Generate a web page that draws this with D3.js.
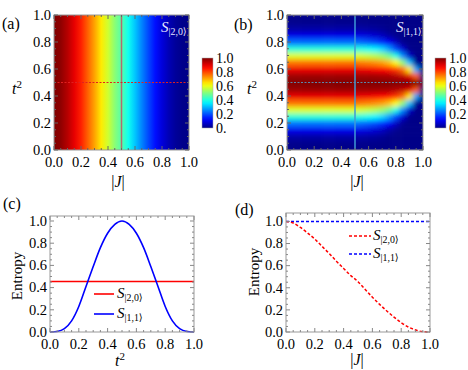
<!DOCTYPE html>
<html>
<head>
<meta charset="utf-8">
<script src="https://cdn.jsdelivr.net/npm/d3@7"></script>
<style>
body{margin:0;background:#fff;}
svg text{font-family:"Liberation Serif","DejaVu Serif","Times New Roman",serif;fill:#000;}
</style>
</head>
<body>
<svg width="468" height="370" font-family="Liberation Serif, DejaVu Serif, serif"></svg>
<script>
// |J| samples and S_|2,0>
var jVals = [0,0.05,0.1,0.15,0.2,0.25,0.3,0.35,0.4,0.45,0.5,0.55,0.6,0.65,0.7,0.75,0.8,0.85,0.9,0.95,1];
var s20 = [1.0,0.985,0.945,0.895,0.84,0.775,0.71,0.64,0.575,0.51,0.455,0.385,0.315,0.25,0.19,0.135,0.085,0.045,0.018,0.003,0];

// grid for S_|1,1>(|J|, t^2): one row per t^2 value, one column per |J| value (same as jVals)
var tVals = [0,0.05,0.1,0.15,0.2,0.25,0.3,0.35,0.4,0.45,0.5,0.55,0.6,0.65,0.7,0.75,0.8,0.85,0.9,0.95,1];
var s11Grid = [
 [0,0,0,0,0,0,0,0,0,0,0,0,0,0,0,0,0,0,0,0,0],
 [0.005,0.005,0.005,0.005,0.005,0.005,0.005,0.005,0.005,0.005,0.005,0.004,0.003,0.003,0.001,0,0,0,0,0,0],
 [0.03,0.03,0.03,0.03,0.03,0.03,0.03,0.03,0.03,0.03,0.03,0.027,0.024,0.02,0.013,0.004,0,0,0,0,0],
 [0.1,0.1,0.1,0.1,0.1,0.1,0.1,0.1,0.1,0.1,0.1,0.093,0.085,0.074,0.057,0.029,0.009,0,0,0,0],
 [0.23,0.23,0.23,0.23,0.23,0.23,0.23,0.23,0.23,0.23,0.23,0.218,0.204,0.189,0.162,0.113,0.058,0.01,0,0,0],
 [0.41,0.41,0.41,0.41,0.41,0.41,0.41,0.41,0.41,0.41,0.41,0.396,0.382,0.362,0.332,0.275,0.187,0.076,0.004,0,0],
 [0.59,0.59,0.59,0.59,0.59,0.59,0.59,0.59,0.59,0.59,0.59,0.579,0.568,0.552,0.527,0.482,0.398,0.252,0.07,0,0],
 [0.76,0.76,0.76,0.76,0.76,0.76,0.76,0.76,0.76,0.76,0.76,0.752,0.744,0.733,0.716,0.684,0.625,0.516,0.31,0.013,0],
 [0.89,0.89,0.89,0.89,0.89,0.89,0.89,0.89,0.89,0.89,0.89,0.886,0.882,0.876,0.867,0.851,0.82,0.768,0.64,0.281,0],
 [0.97,0.97,0.97,0.97,0.97,0.97,0.97,0.97,0.97,0.97,0.97,0.969,0.968,0.965,0.963,0.958,0.949,0.932,0.902,0.778,0],
 [1,1,1,1,1,1,1,1,1,1,1,1,1,1,1,1,1,1,1,1,1],
 [0.97,0.97,0.97,0.97,0.97,0.97,0.97,0.97,0.97,0.97,0.97,0.969,0.968,0.965,0.963,0.958,0.949,0.932,0.902,0.778,0],
 [0.89,0.89,0.89,0.89,0.89,0.89,0.89,0.89,0.89,0.89,0.89,0.886,0.882,0.876,0.867,0.851,0.82,0.768,0.64,0.281,0],
 [0.76,0.76,0.76,0.76,0.76,0.76,0.76,0.76,0.76,0.76,0.76,0.752,0.744,0.733,0.716,0.684,0.625,0.516,0.31,0.013,0],
 [0.59,0.59,0.59,0.59,0.59,0.59,0.59,0.59,0.59,0.59,0.59,0.579,0.568,0.552,0.527,0.482,0.398,0.252,0.07,0,0],
 [0.41,0.41,0.41,0.41,0.41,0.41,0.41,0.41,0.41,0.41,0.41,0.396,0.382,0.362,0.332,0.275,0.187,0.076,0.004,0,0],
 [0.23,0.23,0.23,0.23,0.23,0.23,0.23,0.23,0.23,0.23,0.23,0.218,0.204,0.189,0.162,0.113,0.058,0.01,0,0,0],
 [0.1,0.1,0.1,0.1,0.1,0.1,0.1,0.1,0.1,0.1,0.1,0.093,0.085,0.074,0.057,0.029,0.009,0,0,0,0],
 [0.03,0.03,0.03,0.03,0.03,0.03,0.03,0.03,0.03,0.03,0.03,0.027,0.024,0.02,0.013,0.004,0,0,0,0,0],
 [0.005,0.005,0.005,0.005,0.005,0.005,0.005,0.005,0.005,0.005,0.005,0.004,0.003,0.003,0.001,0,0,0,0,0,0],
 [0,0,0,0,0,0,0,0,0,0,0,0,0,0,0,0,0,0,0,0,0]
];

var axisTicks = [0,0.2,0.4,0.6,0.8,1];
var tickLabels = ["0.0","0.2","0.4","0.6","0.8","1.0"];
var barLabels = ["0.","0.2","0.4","0.6","0.8","1.0"];
var legendSubs = ["|2,0\u27E9","|1,1\u27E9"];

// jet-like colour map
var cmap = d3.scaleLinear()
  .domain([0,0.12,0.37,0.5,0.62,0.87,1])
  .range(["#000088","#0000ff","#00ffff","#80ff80","#ffff00","#ff0000","#800000"])
  .clamp(true);

var svg = d3.select("svg");
var defs = svg.append("defs");
var minor = d3.range(0,1.0001,0.05);

function frame(x, y, col){
  var g = svg.append("g");
  var x0 = x.range()[0], x1 = x.range()[1], y0 = y.range()[1], y1 = y.range()[0];
  g.append("rect").attr("x",x0).attr("y",y0).attr("width",x1-x0).attr("height",y1-y0)
    .attr("fill","none").attr("stroke","#999").attr("stroke-width",1);
  minor.forEach(function(v){
    var big = Math.abs(v*5-Math.round(v*5))<1e-6;
    var len = big ? 4 : 2;
    g.append("line").attr("x1",x(v)).attr("x2",x(v)).attr("y1",y1).attr("y2",y1-len).attr("stroke",col);
    g.append("line").attr("x1",x(v)).attr("x2",x(v)).attr("y1",y0).attr("y2",y0+len).attr("stroke",col);
    g.append("line").attr("y1",y(v)).attr("y2",y(v)).attr("x1",x0).attr("x2",x0+len).attr("stroke",col);
    g.append("line").attr("y1",y(v)).attr("y2",y(v)).attr("x1",x1).attr("x2",x1-len).attr("stroke",col);
  });
  axisTicks.forEach(function(v,i){
    svg.append("text").attr("x",x(v)).attr("y",y1+17).attr("text-anchor","middle")
      .attr("font-size",14.5).text(tickLabels[i]);
    svg.append("text").attr("x",x0-3).attr("y",y(v)).attr("dy","0.33em").attr("text-anchor","end")
      .attr("font-size",14.5).text(tickLabels[i]);
  });
}

function sLabel(x, y, sub, color, size){
  var t = svg.append("text").attr("x",x).attr("y",y).style("fill",color);
  t.append("tspan").attr("font-style","italic").attr("font-size",size).text("S");
  t.append("tspan").attr("font-size",size*0.66).attr("dy",3).text(sub);
}

function tLabel(x, y){
  var t = svg.append("text").attr("x",x).attr("y",y).attr("text-anchor","middle").attr("font-size",16);
  t.append("tspan").attr("font-style","italic").text("t");
  t.append("tspan").attr("font-size",11).attr("dy",-6).text("2");
}

function jLabel(x, y){
  var t = svg.append("text").attr("x",x).attr("y",y).attr("text-anchor","middle").attr("font-size",16);
  t.append("tspan").text("|");
  t.append("tspan").attr("font-style","italic").text("J");
  t.append("tspan").text("|");
}

function colorbar(x, id){
  var yb = d3.scaleLinear().domain([0,1]).range([128,58]);
  var gr = defs.append("linearGradient").attr("id",id).attr("x1",0).attr("x2",0).attr("y1",1).attr("y2",0);
  d3.range(0,1.0001,0.05).forEach(function(v){
    gr.append("stop").attr("offset",v).attr("stop-color",cmap(v));
  });
  svg.append("rect").attr("x",x).attr("y",yb(1)).attr("width",11).attr("height",yb(0)-yb(1))
    .attr("fill","url(#"+id+")").attr("stroke","#aaa").attr("stroke-width",0.5);
  axisTicks.forEach(function(v,i){
    svg.append("text").attr("x",x+14).attr("y",yb(v)).attr("dy","0.35em").attr("font-size",14).text(barLabels[i]);
  });
}

// ---------- (a) ----------
var xA = d3.scaleLinear().domain([0,1]).range([54,189]);
var yA = d3.scaleLinear().domain([0,1]).range([150,15]);
var grA = defs.append("linearGradient").attr("id","gradA");
jVals.forEach(function(j,i){
  grA.append("stop").attr("offset",(xA(j)-xA(0))/(xA(1)-xA(0))).attr("stop-color",cmap(s20[i]));
});
svg.append("rect").attr("x",xA(0)).attr("y",yA(1)).attr("width",xA(1)-xA(0)).attr("height",yA(0)-yA(1))
  .attr("fill","url(#gradA)");
svg.append("line").attr("x1",xA(0.5)).attr("x2",xA(0.5)).attr("y1",yA(0)).attr("y2",yA(1))
  .attr("stroke","#b26a6e").attr("stroke-width",1.5);
svg.append("line").attr("x1",xA(0)).attr("x2",xA(1)).attr("y1",yA(0.5)).attr("y2",yA(0.5))
  .attr("stroke","#e02020").attr("stroke-width",1).attr("stroke-dasharray","2,1.5");
frame(xA, yA, "#666");
sLabel(161, 32, legendSubs[0], "#e6e6ff", 15);
colorbar(202, "barA");
tLabel(17, 94);
jLabel(118, 187);
svg.append("text").attr("x",2).attr("y",29).attr("font-size",16).text("(a)");

// ---------- (b) ----------
var xB = d3.scaleLinear().domain([0,1]).range([287,423]);
var yB = d3.scaleLinear().domain([0,1]).range([150,15]);
var clipB = defs.append("clipPath").attr("id","clipB");
clipB.append("rect").attr("x",xB(0)).attr("y",yB(1)).attr("width",xB(1)-xB(0)).attr("height",yB(0)-yB(1));
var blur = defs.append("filter").attr("id","blurB").attr("x","-10%").attr("y","-10%").attr("width","120%").attr("height","120%");
blur.append("feGaussianBlur").attr("stdDeviation","2.6 2.4").attr("edgeMode","duplicate");
var cw = xB(jVals[1])-xB(jVals[0]);
var ch = yB(tVals[0])-yB(tVals[1]);
var heatB = svg.append("g").attr("clip-path","url(#clipB)").append("g").attr("filter","url(#blurB)");
s11Grid.forEach(function(row,r){
  row.forEach(function(v,c){
    heatB.append("rect")
      .attr("x",xB(jVals[c])-cw/2).attr("y",yB(tVals[r])-ch/2)
      .attr("width",cw+0.5).attr("height",ch+0.5)
      .attr("fill",cmap(v));
  });
});
svg.append("line").attr("x1",xB(0.5)).attr("x2",xB(0.5)).attr("y1",yB(0)).attr("y2",yB(1))
  .attr("stroke","#3f9ad6").attr("stroke-width",1.5);
svg.append("line").attr("x1",xB(0)).attr("x2",xB(1)).attr("y1",yB(0.5)).attr("y2",yB(0.5))
  .attr("stroke","#5b86ab").attr("stroke-width",1).attr("stroke-dasharray","2,1.5");
frame(xB, yB, "#666");
sLabel(396, 32, legendSubs[1], "#e6e6ff", 15);
colorbar(435, "barB");
tLabel(252, 94);
jLabel(357, 187);
svg.append("text").attr("x",234).attr("y",30).attr("font-size",16).text("(b)");

// ---------- (c) ----------
var xC = d3.scaleLinear().domain([0,1]).range([50,194]);
var yC = d3.scaleLinear().domain([0,1.045]).range([332,216]);
var jMid = jVals.indexOf(0.5);
svg.append("line").attr("x1",xC(0)).attr("x2",xC(1)).attr("y1",yC(s20[jMid])).attr("y2",yC(s20[jMid]))
  .attr("stroke","#ff0000").attr("stroke-width",1.6);
var lineC = d3.line().x(function(d){return xC(d[0]);}).y(function(d){return yC(d[1]);}).curve(d3.curveMonotoneX);
svg.append("path").attr("d",lineC(tVals.map(function(t,i){return [t,s11Grid[i][jMid]];})))
  .attr("fill","none").attr("stroke","#0000ff").attr("stroke-width",1.6);
frame(xC, yC, "#888");
[["#ff0000",294],["#0000ff",314]].forEach(function(e,i){
  svg.append("line").attr("x1",94).attr("x2",114).attr("y1",e[1]).attr("y2",e[1]).attr("stroke",e[0]).attr("stroke-width",1.6);
  sLabel(117, e[1]+4, legendSubs[i], "#000", 15);
});
svg.append("text").attr("transform","translate(22,276) rotate(-90)").attr("text-anchor","middle")
  .attr("font-size",15).text("Entropy");
tLabel(120, 366);
svg.append("text").attr("x",3).attr("y",209).attr("font-size",16).text("(c)");

// ---------- (d) ----------
var xD = d3.scaleLinear().domain([0,1]).range([286,430]);
var yD = d3.scaleLinear().domain([0,1.076]).range([332,213]);
var tMid = tVals.indexOf(0.5);
var lineD = d3.line().x(function(d){return xD(d[0]);}).y(function(d){return yD(d[1]);}).curve(d3.curveMonotoneX);
svg.append("path").attr("d",lineD(jVals.map(function(j,i){return [j,s11Grid[tMid][i]];})))
  .attr("fill","none").attr("stroke","#0000ff").attr("stroke-width",1.5).attr("stroke-dasharray","3,2");
svg.append("path").attr("d",lineD(jVals.map(function(j,i){return [j,s20[i]];})))
  .attr("fill","none").attr("stroke","#ff0000").attr("stroke-width",1.5).attr("stroke-dasharray","3,2");
frame(xD, yD, "#888");
[["#ff0000",236],["#0000ff",254]].forEach(function(e,i){
  svg.append("line").attr("x1",349).attr("x2",371).attr("y1",e[1]).attr("y2",e[1]).attr("stroke",e[0])
    .attr("stroke-width",1.5).attr("stroke-dasharray","3,2");
  sLabel(373, e[1]+4, legendSubs[i], "#000", 15);
});
svg.append("text").attr("transform","translate(259,272) rotate(-90)").attr("text-anchor","middle")
  .attr("font-size",15).text("Entropy");
jLabel(357, 365);
svg.append("text").attr("x",235).attr("y",215).attr("font-size",16).text("(d)");
</script>
</body>
</html>
